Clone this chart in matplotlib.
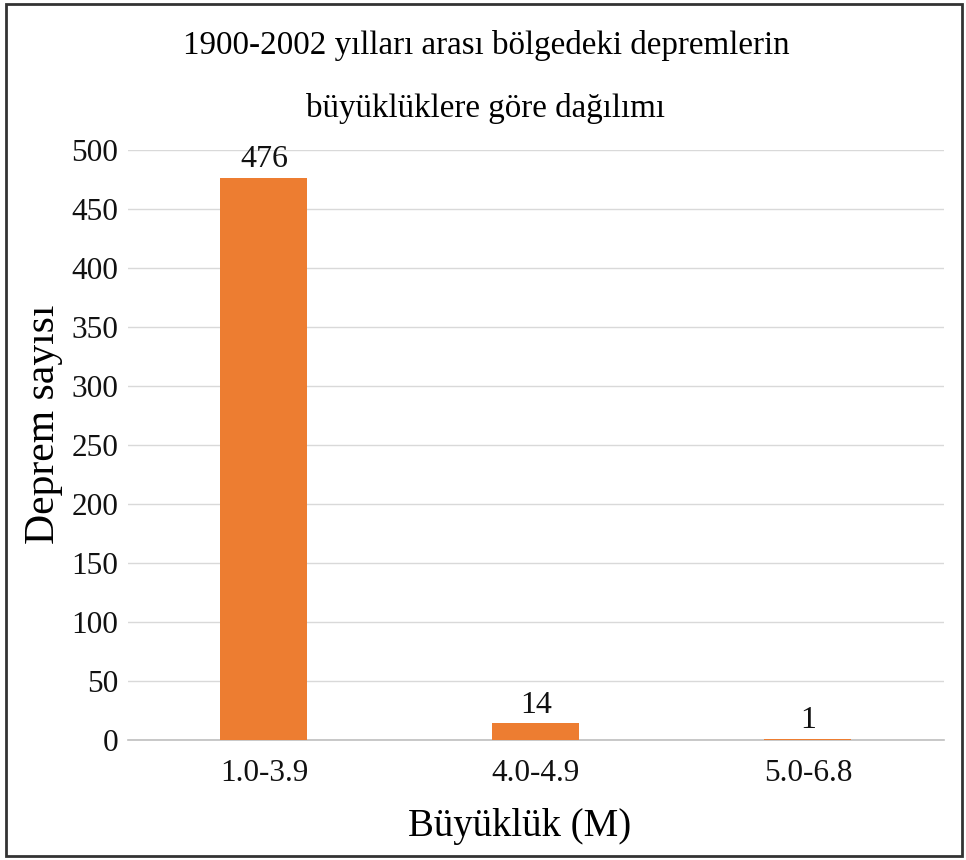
import matplotlib.pyplot as plt
from matplotlib.patches import Rectangle

categories = ["1.0-3.9", "4.0-4.9", "5.0-6.8"]
counts = [476, 14, 1]
yticks = [0, 50, 100, 150, 200, 250, 300, 350, 400, 450, 500]

plt.rcParams['font.family'] = ['Liberation Serif', 'DejaVu Serif']

fig = plt.figure(figsize=(9.66, 8.6), dpi=100)
ax = fig.add_axes([0.1325, 0.1395, 0.8445, 0.6865])

x = range(len(categories))
bars = ax.bar(x, counts, width=0.32, color="#ED7D31", zorder=3)
for b, v in zip(bars, counts):
    ax.text(b.get_x() + b.get_width() / 2, v + 3, str(v), ha="center", va="bottom",
            fontsize=23, color="#111111", zorder=4)

ax.set_xlim(-0.5, len(categories) - 0.5)
ax.set_ylim(0, 500)
ax.set_yticks(yticks)
ax.set_xticks(list(x))
ax.set_xticklabels(categories)
ax.tick_params(axis="both", length=0, labelsize=22.5, colors="#111111")
ax.tick_params(axis="y", pad=7)
ax.tick_params(axis="x", pad=14)
ax.grid(axis="y", color="#D9D9D9", linewidth=1, zorder=0)
for s in ["top", "right", "left"]:
    ax.spines[s].set_visible(False)
ax.spines["bottom"].set_color("#BFBFBF")
ax.spines["bottom"].set_linewidth(1.2)

ax.set_ylabel("Deprem sayısı", fontsize=30)
ax.yaxis.set_label_coords(-0.08, 0.534)
ax.set_xlabel("Büyüklük (M)", fontsize=28)
ax.xaxis.set_label_coords(0.48, -0.115)

fig.text(0.503, 0.947, "1900-2002 yılları arası bölgedeki depremlerin",
         ha="center", va="center", fontsize=23.8)
fig.text(0.503, 0.874, "büyüklüklere göre dağılımı",
         ha="center", va="center", fontsize=23.8)

fig.patches.append(Rectangle((0.006, 0.005), 0.99, 0.99, transform=fig.transFigure,
                             fill=False, edgecolor="#333333", linewidth=2))

fig.savefig("out.png", dpi=100)
